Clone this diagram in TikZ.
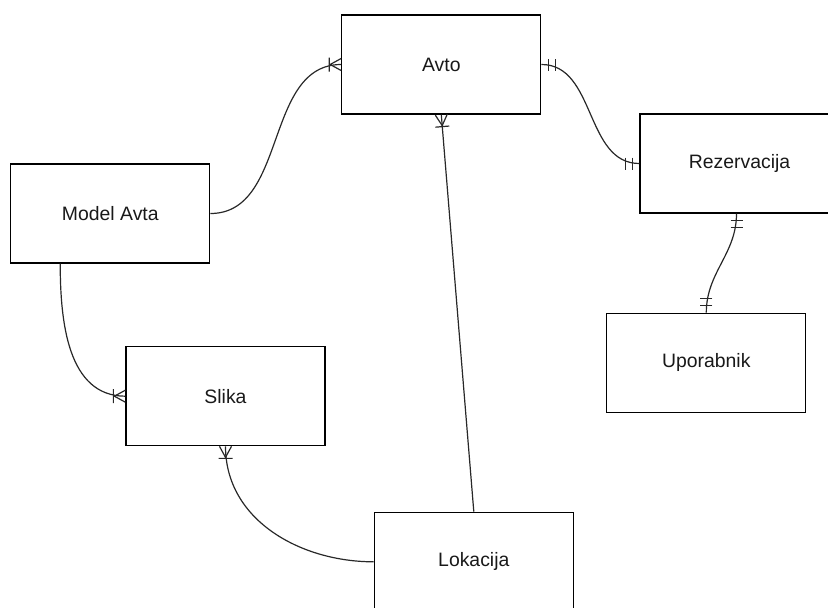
\documentclass[tikz,border=0pt]{standalone}
\usepackage{fontspec}
\setmainfont{Liberation Sans}
\usetikzlibrary{arrows.meta,calc}
\definecolor{boxbdr}{RGB}{0,0,0}
\definecolor{lnclr}{RGB}{40,40,40}
\definecolor{txtclr}{RGB}{25,25,25}

%% ER tips: crow's foot with bar (one or many), double bar (one and only one)
\pgfdeclarearrow{
  name = CrowOne,
  setup code = {
    \pgfarrowssettipend{0pt}
    \pgfarrowssetbackend{-13pt}
    \pgfarrowssetlineend{0pt}
    \pgfarrowshullpoint{0pt}{7pt}
    \pgfarrowshullpoint{0pt}{-7pt}
    \pgfarrowshullpoint{-13pt}{7pt}
    \pgfarrowshullpoint{-13pt}{-7pt}
  },
  drawing code = {
    \pgfsetdash{}{0pt}
    \pgfpathmoveto{\pgfqpoint{0pt}{6pt}}
    \pgfpathlineto{\pgfqpoint{-11pt}{0pt}}
    \pgfpathlineto{\pgfqpoint{0pt}{-6pt}}
    \pgfpathmoveto{\pgfqpoint{-12pt}{7pt}}
    \pgfpathlineto{\pgfqpoint{-12pt}{-7pt}}
    \pgfusepathqstroke
  }
}
\pgfdeclarearrow{
  name = MandOne,
  setup code = {
    \pgfarrowssettipend{0pt}
    \pgfarrowssetbackend{-15pt}
    \pgfarrowssetlineend{0pt}
    \pgfarrowshullpoint{0pt}{6pt}
    \pgfarrowshullpoint{0pt}{-6pt}
    \pgfarrowshullpoint{-15pt}{6pt}
    \pgfarrowshullpoint{-15pt}{-6pt}
  },
  drawing code = {
    \pgfsetdash{}{0pt}
    \pgfpathmoveto{\pgfqpoint{-7pt}{6pt}}
    \pgfpathlineto{\pgfqpoint{-7pt}{-6pt}}
    \pgfpathmoveto{\pgfqpoint{-14pt}{6pt}}
    \pgfpathlineto{\pgfqpoint{-14pt}{-6pt}}
    \pgfusepathqstroke
  }
}

\tikzset{
  %% entity box
  ent/.style={rectangle,draw=boxbdr,fill=white,line width=1.3pt,
    minimum width=199pt,minimum height=99pt,inner sep=0pt,
    font=\fontsize{19.4}{23}\selectfont,text=txtclr},
  %% relationship line
  rel/.style={draw=lnclr,line width=1.2pt},
}

\begin{document}
\begin{tikzpicture}[x=1pt,y=-1pt]
  \useasboundingbox (0,0) rectangle (828,608);

  %% entities
  \node[ent] (avto)  at (441.3,64.5)  {Avto};
  \node[ent] (mavta) at (110.3,213.5) {Model Avta};
  \node[ent] (rez)   at (739.5,163.5) {Rezervacija};
  \node[ent] (upor)  at (706.3,362.8) {Uporabnik};
  \node[ent] (slika) at (225.5,396.2) {Slika};
  \node[ent] (lok)   at (473.8,561.8) {Lokacija};

  %% relations
  \draw[rel,-{CrowOne}] (mavta.east) to[out=0,in=180] (avto.west);
  \draw[rel,{MandOne}-{MandOne}] (avto.east) to[out=0,in=180] (rez.west);
  \draw[rel,{MandOne}-{MandOne}] ([xshift=-3pt]rez.south) to[out=-90,in=90] (upor.north);
  \draw[rel,{CrowOne}-] (avto.south) -- (lok.north);
  \draw[rel,-{CrowOne}] ($(mavta.south west)!0.25!(mavta.south east)$) to[out=-90,in=180] (slika.west);
  \draw[rel,-{CrowOne}] (lok.west) to[out=180,in=-90] (slika.south);

\end{tikzpicture}
\end{document}
